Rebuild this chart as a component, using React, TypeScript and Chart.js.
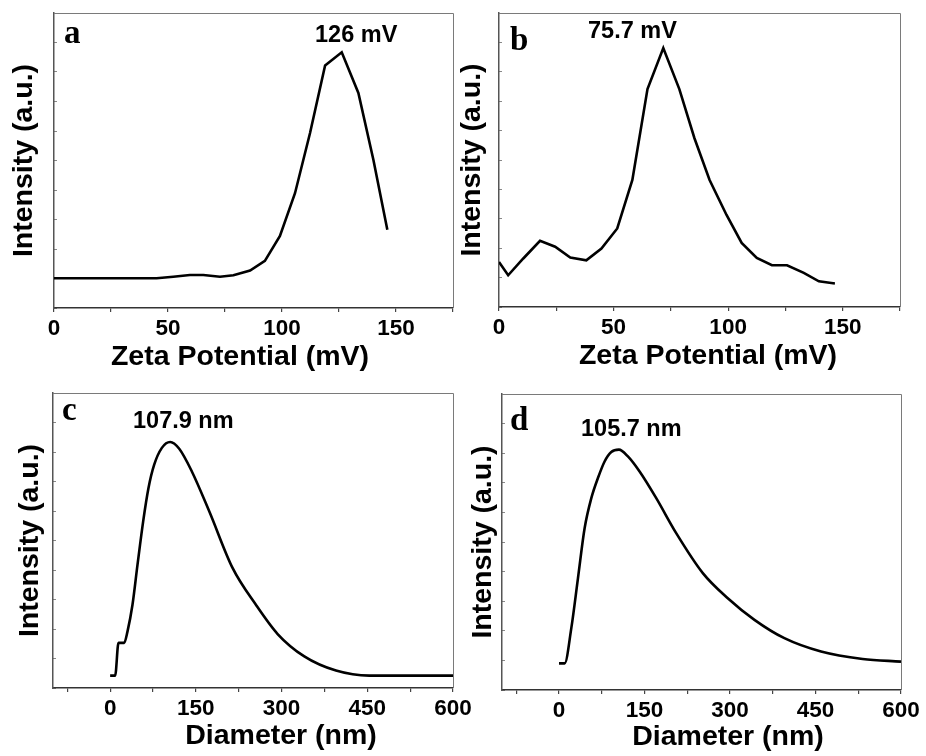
import React, { useEffect, useRef } from "react";
import { Chart, registerables } from "chart.js";

Chart.register(...registerables);

// ---- Data ----
// Panel a: zeta potential
const zetaA_x = [0, 13.2, 26.4, 39.6, 45.0, 52.3, 59.6, 65.5, 72.8, 78.7, 86.0, 92.5, 99.1, 105.7, 112.3, 118.9, 126.2, 133.5, 140.1, 146.2];
const zetaA_y = [10.1, 10.1, 10.1, 10.1, 10.1, 10.6, 11.2, 11.2, 10.6, 11.1, 12.7, 16.0, 24.4, 38.9, 59.3, 82.2, 86.7, 72.9, 50.2, 26.5];

// Panel b: zeta potential
const zetaB_x = [0, 4.0, 10.6, 17.9, 24.5, 31.1, 38.1, 44.7, 51.6, 58.2, 64.8, 71.7, 78.7, 85.3, 91.9, 99.3, 105.9, 112.5, 119.1, 125.7, 133.0, 139.6, 146.6];
const zetaB_y = [15.3, 10.8, 16.5, 22.5, 20.5, 16.8, 15.9, 19.9, 26.7, 43.2, 74.1, 88.1, 74.1, 57.4, 43.2, 31.3, 21.8, 16.7, 14.2, 14.2, 11.6, 8.75, 8.0];

// Panel c: particle size
const sizeC_x = [0, 8.8, 14.6, 24.5, 30.4, 39.1, 47.9, 57.8, 67.1, 77.1, 90.5, 105.1, 120.9, 143.0, 173.4, 214.2, 255.1, 293.1, 339.8, 395.2, 453.6, 600];
const sizeC_y = [4.2, 4.2, 15.3, 15.3, 19.2, 28.2, 41.8, 56.5, 67.8, 75.7, 81.4, 83.4, 81.1, 73.4, 59.9, 40.7, 28.2, 18.3, 10.7, 5.9, 4.2, 4.2];

// Panel d: particle size
const sizeD_x = [0, 9.9, 21.6, 33.3, 45.0, 56.7, 68.3, 80.0, 91.7, 105.1, 120.9, 141.4, 170.6, 205.6, 252.3, 296.1, 342.9, 395.4, 459.7, 532.7, 600];
const sizeD_y = [9.0, 9.0, 20.9, 37.8, 54.7, 64.8, 71.6, 77.2, 80.4, 81.2, 78.9, 73.8, 64.8, 53.0, 39.5, 31.0, 23.7, 17.5, 13.0, 10.5, 9.6];

// Tick definitions
const zetaTicks = [0, 25, 50, 75, 100, 125, 150, 175];
const zetaLabels = [0, 50, 100, 150];
const sizeTicks = [-75, 0, 75, 150, 225, 300, 375, 450, 525, 600];
const sizeLabels = [0, 150, 300, 450, 600];

const letters = ["a", "b", "c", "d"];
const peaks = ["126 mV", "75.7 mV", "107.9 nm", "105.7 nm"];
const xTitles = ["Zeta Potential (mV)", "Zeta Potential (mV)", "Diameter (nm)", "Diameter (nm)"];
const yTitle = "Intensity (a.u.)";

// ---- Layout (page pixel geometry of each panel) ----
const W = 926;
const H = 756;
const SANS = "'Liberation Sans', Arial, sans-serif";
const SERIF = "'Liberation Serif', 'Times New Roman', serif";

type Layout = {
  pad: { left: number; top: number; right: number; bottom: number };
  yWidth: number;
  xHeight: number;
  letterPos: [number, number];
  peakPos: [number, number];
  xTitlePos: [number, number];
};

const layouts: Layout[] = [
  { pad: { left: 10, top: 13, right: 473, bottom: 418 }, yWidth: 44, xHeight: 30, letterPos: [64, 43], peakPos: [315, 42], xTitlePos: [240, 357] },
  { pad: { left: 458, top: 13, right: 26, bottom: 419 }, yWidth: 41, xHeight: 30, letterPos: [510, 50], peakPos: [588, 38], xTitlePos: [708, 356] },
  { pad: { left: 16, top: 393, right: 473, bottom: 38 }, yWidth: 37, xHeight: 30, letterPos: [62, 420], peakPos: [133, 428], xTitlePos: [281, 736] },
  { pad: { left: 469, top: 394, right: 25, bottom: 36 }, yWidth: 33, xHeight: 30, letterPos: [510, 430], peakPos: [581, 436], xTitlePos: [728, 737] },
];

const series = [
  { xs: zetaA_x, ys: zetaA_y, min: 0, max: 175, ticks: zetaTicks, labels: zetaLabels, smooth: false },
  { xs: zetaB_x, ys: zetaB_y, min: 0, max: 175, ticks: zetaTicks, labels: zetaLabels, smooth: false },
  { xs: sizeC_x, ys: sizeC_y, min: -100, max: 600, ticks: sizeTicks, labels: sizeLabels, smooth: true },
  { xs: sizeD_x, ys: sizeD_y, min: -100, max: 600, ticks: sizeTicks, labels: sizeLabels, smooth: true },
];

function makeConfig(i: number): any {
  const s = series[i];
  const L = layouts[i];
  const decor = {
    id: "decor" + i,
    afterDraw(chart: any) {
      const ctx = chart.ctx;
      const a = chart.chartArea;
      ctx.save();
      // top & right frame lines
      ctx.strokeStyle = "#7a7a7a";
      ctx.lineWidth = 1;
      ctx.beginPath();
      ctx.moveTo(a.left, a.top + 0.5);
      ctx.lineTo(a.right + 0.5, a.top + 0.5);
      ctx.lineTo(a.right + 0.5, a.bottom);
      ctx.stroke();
      // panel letter
      ctx.fillStyle = "#000";
      ctx.textAlign = "left";
      ctx.textBaseline = "alphabetic";
      ctx.font = `bold 33px ${SERIF}`;
      ctx.fillText(letters[i], L.letterPos[0], L.letterPos[1]);
      // peak annotation
      ctx.font = `bold 23.5px ${SANS}`;
      ctx.fillText(peaks[i], L.peakPos[0], L.peakPos[1]);
      // x axis title
      ctx.font = `bold 28.5px ${SANS}`;
      ctx.textAlign = "center";
      ctx.textBaseline = "middle";
      ctx.fillText(xTitles[i], L.xTitlePos[0], L.xTitlePos[1]);
      ctx.restore();
    },
  };
  return {
    type: "line",
    data: {
      datasets: [
        {
          data: s.xs.map((x, k) => ({ x, y: s.ys[k] })),
          borderColor: "#000",
          borderWidth: 2.6,
          pointRadius: 0,
          tension: s.smooth ? 0.4 : 0,
          cubicInterpolationMode: s.smooth ? "monotone" : "default",
          fill: false,
        },
      ],
    },
    options: {
      animation: false,
      responsive: false,
      devicePixelRatio: 1,
      events: [],
      layout: { padding: L.pad },
      plugins: { legend: { display: false }, tooltip: { enabled: false }, title: { display: false } },
      scales: {
        x: {
          type: "linear",
          min: s.min,
          max: s.max,
          afterBuildTicks: (scale: any) => {
            scale.ticks = s.ticks.map((v) => ({ value: v }));
          },
          afterFit: (scale: any) => {
            scale.height = L.xHeight;
          },
          grid: { drawOnChartArea: false, drawTicks: true, tickLength: 4, color: "#444", lineWidth: 1.2 },
          border: { display: true, color: "#333", width: 1.5 },
          ticks: {
            autoSkip: false,
            maxRotation: 0,
            padding: 3,
            color: "#000",
            font: { family: SANS, size: 22.5, weight: "bold" },
            callback: (v: any) => (s.labels.includes(Number(v)) ? String(v) : ""),
          },
        },
        y: {
          type: "linear",
          min: 0,
          max: 100,
          afterFit: (scale: any) => {
            scale.width = L.yWidth;
          },
          ticks: { stepSize: 10, display: false },
          grid: { drawOnChartArea: false, drawTicks: true, tickLength: -3, color: "#888", lineWidth: 1 },
          border: { display: true, color: "#555", width: 1.5 },
          title: {
            display: true,
            text: yTitle,
            color: "#000",
            font: { family: SANS, size: 28.5, weight: "bold", lineHeight: 1 },
            padding: { top: 0, bottom: 0 },
          },
        },
      },
    },
    plugins: [decor],
  };
}

function Panel({ index }: { index: number }) {
  const ref = useRef<HTMLCanvasElement | null>(null);
  useEffect(() => {
    if (!ref.current) return;
    const chart = new Chart(ref.current, makeConfig(index));
    return () => chart.destroy();
  }, [index]);
  return (
    <canvas
      ref={ref}
      width={W}
      height={H}
      style={{ position: "absolute", left: 0, top: 0, width: W, height: H }}
    />
  );
}

export default function App() {
  return (
    <div style={{ position: "fixed", left: 0, top: 0, width: W, height: H, background: "#fff", overflow: "hidden" }}>
      {[0, 1, 2, 3].map((i) => (
        <Panel key={i} index={i} />
      ))}
    </div>
  );
}
